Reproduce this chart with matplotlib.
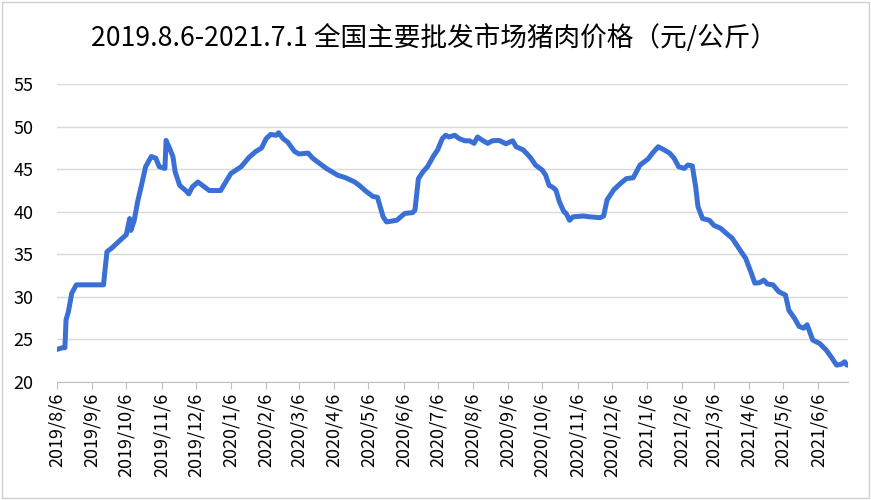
import pandas as pd
import matplotlib
matplotlib.use('Agg')
import matplotlib.pyplot as plt
from matplotlib.patches import Rectangle

plt.rcParams['font.family'] = ['Noto Sans CJK SC', 'DejaVu Sans']

# price series (yuan/kg)
dates = [
    '2019-08-06', '2019-08-11', '2019-08-13', '2019-08-14', '2019-08-16', '2019-08-19', '2019-08-23',
    '2019-09-16', '2019-09-17', '2019-09-19', '2019-09-23', '2019-10-01', '2019-10-06', '2019-10-09',
    '2019-10-10', '2019-10-13', '2019-10-16', '2019-10-19', '2019-10-23', '2019-10-28', '2019-11-01',
    '2019-11-04', '2019-11-09', '2019-11-10', '2019-11-13', '2019-11-16', '2019-11-18', '2019-11-22',
    '2019-11-28', '2019-11-30', '2019-12-03', '2019-12-08', '2019-12-18', '2019-12-28', '2020-01-06',
    '2020-01-15', '2020-01-22', '2020-01-28', '2020-02-02', '2020-02-06', '2020-02-10', '2020-02-15',
    '2020-02-17', '2020-02-21', '2020-02-25', '2020-03-02', '2020-03-06', '2020-03-14', '2020-03-18',
    '2020-03-24', '2020-03-30', '2020-04-09', '2020-04-16', '2020-04-24', '2020-04-28', '2020-05-04',
    '2020-05-10', '2020-05-14', '2020-05-19', '2020-05-22', '2020-05-31', '2020-06-07', '2020-06-14',
    '2020-06-16', '2020-06-19', '2020-06-23', '2020-06-27', '2020-07-02', '2020-07-06', '2020-07-10',
    '2020-07-13', '2020-07-16', '2020-07-21', '2020-07-25', '2020-07-30', '2020-08-03', '2020-08-07',
    '2020-08-10', '2020-08-15', '2020-08-19', '2020-08-23', '2020-08-29', '2020-09-04', '2020-09-10',
    '2020-09-13', '2020-09-19', '2020-09-22', '2020-09-26', '2020-09-30', '2020-10-06', '2020-10-09',
    '2020-10-12', '2020-10-15', '2020-10-18', '2020-10-21', '2020-10-25', '2020-10-27', '2020-10-30',
    '2020-11-02', '2020-11-11', '2020-11-17', '2020-11-26', '2020-11-29', '2020-12-02', '2020-12-08',
    '2020-12-14', '2020-12-19', '2020-12-25', '2020-12-31', '2021-01-07', '2021-01-11', '2021-01-16',
    '2021-01-21', '2021-01-26', '2021-01-30', '2021-02-03', '2021-02-08', '2021-02-11', '2021-02-15',
    '2021-02-18', '2021-02-20', '2021-02-24', '2021-03-02', '2021-03-06', '2021-03-12', '2021-03-17',
    '2021-03-22', '2021-03-28', '2021-04-03', '2021-04-08', '2021-04-11', '2021-04-15', '2021-04-19',
    '2021-04-22', '2021-04-27', '2021-05-02', '2021-05-08', '2021-05-11', '2021-05-16', '2021-05-20',
    '2021-05-24', '2021-05-27', '2021-06-01', '2021-06-07', '2021-06-13', '2021-06-18', '2021-06-22',
    '2021-06-26', '2021-06-29', '2021-07-01',
]
prices = [
    23.8, 24.0, 24.0, 27.3, 28.2, 30.4, 31.4,
    31.4, 32.8, 35.3, 35.7, 36.7, 37.3, 39.2,
    37.8, 39.0, 41.2, 42.9, 45.3, 46.5, 46.3,
    45.3, 45.1, 48.4, 47.5, 46.5, 44.7, 43.1,
    42.4, 42.1, 42.9, 43.5, 42.5, 42.5, 44.5,
    45.3, 46.4, 47.1, 47.5, 48.6, 49.1, 49.0,
    49.3, 48.6, 48.2, 47.1, 46.8, 46.9, 46.3,
    45.7, 45.1, 44.3, 44.0, 43.5, 43.1, 42.4,
    41.8, 41.7, 39.4, 38.8, 39.0, 39.8, 39.9,
    40.2, 43.9, 44.7, 45.3, 46.5, 47.3, 48.6,
    49.0, 48.8, 49.0, 48.6, 48.35, 48.35, 48.05,
    48.8, 48.35, 48.05, 48.35, 48.4, 48.0, 48.35,
    47.65, 47.3, 46.9, 46.3, 45.5, 44.9, 44.3,
    43.1, 42.9, 42.55, 41.2, 40.0, 39.8, 39.0,
    39.4, 39.5, 39.4, 39.3, 39.5, 41.4, 42.6,
    43.35, 43.9, 44.0, 45.5, 46.2, 46.9, 47.65,
    47.3, 46.9, 46.3, 45.3, 45.1, 45.5, 45.4,
    42.9, 40.6, 39.2, 39.0, 38.4, 38.05, 37.45,
    36.9, 35.7, 34.5, 32.75, 31.6, 31.65, 31.95,
    31.5, 31.4, 30.6, 30.2, 28.4, 27.45, 26.5,
    26.3, 26.7, 24.9, 24.5, 23.7, 22.75, 21.95,
    22.05, 22.35, 21.95,
]
yticks = [20, 25, 30, 35, 40, 45, 50, 55]
title = '2019.8.6-2021.7.1 全国主要批发市场猪肉价格（元/公斤）'

df = pd.DataFrame({'date': pd.to_datetime(dates), 'price': prices})

fig = plt.figure(figsize=(8.71, 5), dpi=100)
ax = fig.add_axes([0.0654, 0.2366, 0.9082, 0.5948])

ax.plot(df['date'], df['price'], color='#3a70d6', lw=3.6, solid_joinstyle='round',
        solid_capstyle='round')

ax.set_ylim(20, 55)
ax.set_yticks(yticks)
ax.set_xlim(pd.Timestamp('2019-08-06'), pd.Timestamp('2021-07-02'))

# monthly ticks on the 6th
ticks = pd.date_range('2019-08-01', '2021-06-01', freq='MS') + pd.Timedelta(days=5)
ax.set_xticks(ticks)
ax.set_xticklabels([f'{d.year}/{d.month}/{d.day}' for d in ticks], rotation=90, fontsize=13)
ax.tick_params(axis='y', length=0, labelsize=13, pad=17)
ax.tick_params(axis='x', length=5, color='#bfbfbf', pad=3)

ax.grid(axis='y', color='#d9d9d9', lw=1)
ax.set_axisbelow(True)
for s in ['top', 'right', 'left']:
    ax.spines[s].set_visible(False)
ax.spines['bottom'].set_color('#bfbfbf')

fig.text(0.498, 0.924, title, ha='center', va='center', fontsize=19.2)

# thin frame around the picture
fig.patches.append(Rectangle((0.002, 0.004), 0.996, 0.992, transform=fig.transFigure,
                             fill=False, ec='#d0d0d0', lw=1))

fig.savefig('out.png', dpi=100)
